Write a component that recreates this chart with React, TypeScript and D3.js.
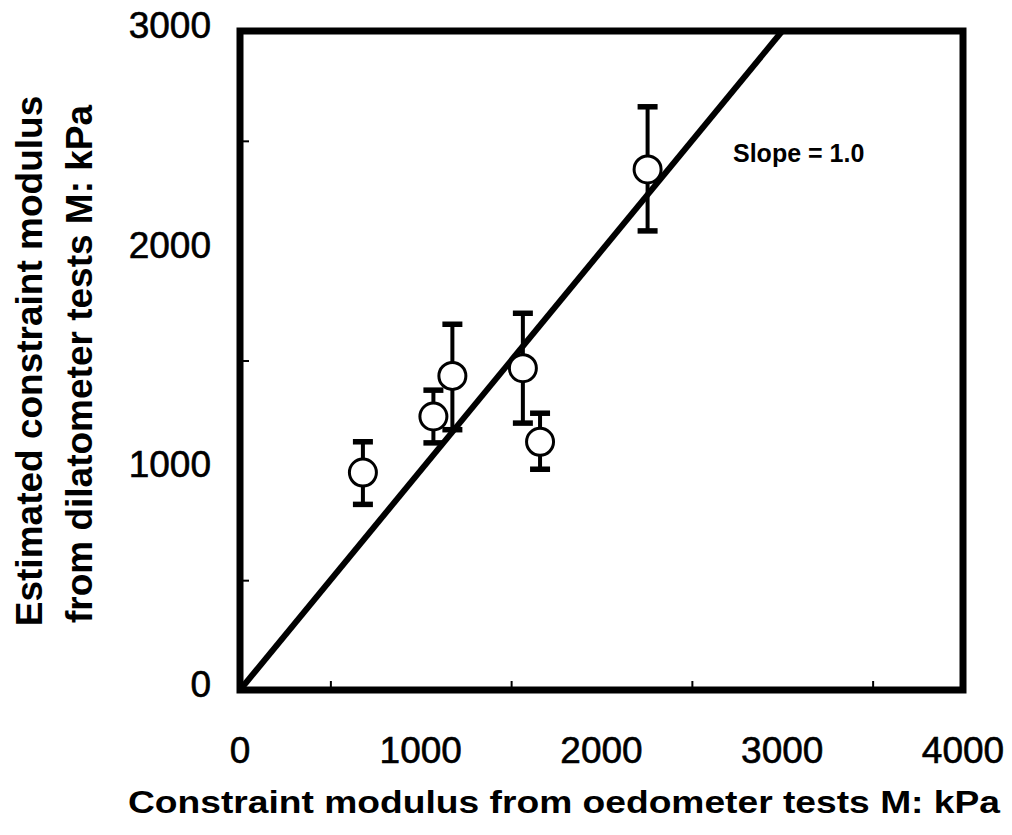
import * as d3 from "d3";
import React, { useRef, useEffect } from "react";

// values (kPa)
const oedometerM = [680, 1070, 1175, 1565, 1660, 2255];
const dilatometerM = [990, 1245, 1430, 1465, 1130, 2370];
const errUpper = [1130, 1365, 1665, 1715, 1260, 2655];
const errLower = [845, 1125, 1185, 1215, 1005, 2090];
const xTickLabels = [0, 1000, 2000, 3000, 4000];
const yTickLabels = [0, 1000, 2000, 3000];
const minorTicks = [500, 1500, 2500, 3500];
const slopeLine = [0, 3000];

const W = 1012;
const H = 835;
const FONT = "'Liberation Sans', Arial, sans-serif";

export default function App() {
  const ref = useRef<SVGSVGElement>(null);

  useEffect(() => {
    const svg = d3.select(ref.current);
    svg.selectAll("*").remove();

    const x = d3.scaleLinear().domain([0, 4000]).range([240, 963]);
    const y = d3.scaleLinear().domain([0, 3000]).range([690, 31]);

    // frame
    svg
      .append("rect")
      .attr("x", x(0))
      .attr("y", y(3000))
      .attr("width", x(4000) - x(0))
      .attr("height", y(0) - y(3000))
      .attr("fill", "none")
      .attr("stroke", "#000")
      .attr("stroke-width", 7);

    // inward minor ticks
    const xAxis = d3
      .axisBottom(x)
      .tickValues(minorTicks)
      .tickSize(-9)
      .tickFormat(() => "");
    const gx = svg.append("g").attr("transform", `translate(0,${y(0)})`).call(xAxis);
    gx.select(".domain").remove();
    gx.selectAll("line").attr("stroke", "#000").attr("stroke-width", 2);

    const yAxis = d3
      .axisLeft(y)
      .tickValues([500, 1500, 2500])
      .tickSize(-9)
      .tickFormat(() => "");
    const gy = svg.append("g").attr("transform", `translate(${x(0)},0)`).call(yAxis);
    gy.select(".domain").remove();
    gy.selectAll("line").attr("stroke", "#000").attr("stroke-width", 2);

    // tick labels
    svg
      .selectAll(".xlab")
      .data(xTickLabels)
      .enter()
      .append("text")
      .attr("x", d => x(d))
      .attr("y", 763)
      .attr("text-anchor", "middle")
      .attr("font-family", FONT)
      .attr("font-size", 37)
      .attr("stroke", "#000")
      .attr("stroke-width", 0.6)
      .text(d => `${d}`);

    svg
      .selectAll(".ylab")
      .data(yTickLabels)
      .enter()
      .append("text")
      .attr("x", 211)
      .attr("y", d => y(d) + 7)
      .attr("text-anchor", "end")
      .attr("font-family", FONT)
      .attr("font-size", 37)
      .attr("stroke", "#000")
      .attr("stroke-width", 0.6)
      .text(d => `${d}`);

    // slope = 1 line
    svg
      .append("line")
      .attr("x1", x(slopeLine[0]))
      .attr("y1", y(slopeLine[0]))
      .attr("x2", x(slopeLine[1]))
      .attr("y2", y(slopeLine[1]))
      .attr("stroke", "#000")
      .attr("stroke-width", 6);

    const pts = oedometerM.map((v, i) => ({
      x: v,
      y: dilatometerM[i],
      hi: errUpper[i],
      lo: errLower[i]
    }));

    // error bars
    const eb = svg.append("g");
    pts.forEach(p => {
      eb.append("line")
        .attr("x1", x(p.x))
        .attr("x2", x(p.x))
        .attr("y1", y(p.hi))
        .attr("y2", y(p.lo))
        .attr("stroke", "#000")
        .attr("stroke-width", 4);
      [p.hi, p.lo].forEach(c => {
        eb.append("line")
          .attr("x1", x(p.x) - 10)
          .attr("x2", x(p.x) + 10)
          .attr("y1", y(c))
          .attr("y2", y(c))
          .attr("stroke", "#000")
          .attr("stroke-width", 5.5);
      });
    });

    // points
    svg
      .selectAll("circle")
      .data(pts)
      .enter()
      .append("circle")
      .attr("cx", d => x(d.x))
      .attr("cy", d => y(d.y))
      .attr("r", 13.5)
      .attr("fill", "#fff")
      .attr("stroke", "#000")
      .attr("stroke-width", 3);

    svg
      .append("text")
      .attr("x", 733)
      .attr("y", 162)
      .attr("font-family", FONT)
      .attr("font-weight", "bold")
      .attr("font-size", 25)
      .text("Slope = 1.0");

    // axis titles
    svg
      .append("text")
      .attr("x", 128)
      .attr("y", 813)
      .attr("font-family", FONT)
      .attr("font-weight", "bold")
      .attr("font-size", 32)
      .attr("textLength", 872)
      .attr("lengthAdjust", "spacingAndGlyphs")
      .text("Constraint modulus from oedometer tests M: kPa");

    const yt = svg
      .append("text")
      .attr("transform", "translate(0,361) rotate(-90)")
      .attr("text-anchor", "middle")
      .attr("font-family", FONT)
      .attr("font-weight", "bold")
      .attr("font-size", 37);
    yt.append("tspan").attr("x", 0).attr("y", 42).text("Estimated constraint modulus");
    yt.append("tspan").attr("x", -3).attr("y", 92).text("from dilatometer tests M: kPa");
  }, []);

  return (
    <div style={{ position: "absolute", left: 0, top: 0 }}>
      <svg ref={ref} width={W} height={H} style={{ display: "block", background: "#fff" }}></svg>
    </div>
  );
}
